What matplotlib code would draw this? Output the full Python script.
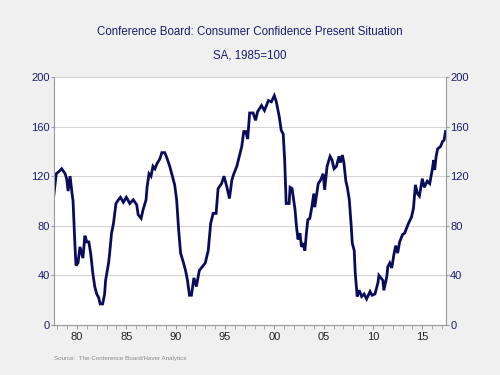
import numpy as np
import matplotlib
matplotlib.use('Agg')
import matplotlib.pyplot as plt

plt.rcParams['font.family'] = ['Liberation Sans', 'DejaVu Sans']

# decimal year, index value
years = [1977.6, 1977.9, 1978.2, 1978.45, 1978.8, 1978.95, 1979.1, 1979.3, 1979.5,
         1979.6, 1979.8, 1979.9, 1980.1, 1980.3, 1980.5, 1980.6, 1980.8, 1981.0,
         1981.2, 1981.4, 1981.6, 1981.8, 1982.0, 1982.2, 1982.35, 1982.6, 1982.8,
         1982.9, 1983.2, 1983.3, 1983.5, 1983.7, 1983.95, 1984.2, 1984.4, 1984.7,
         1985.0, 1985.35, 1985.7, 1986.05, 1986.2, 1986.5, 1986.7, 1987.0, 1987.1,
         1987.3, 1987.5, 1987.7, 1987.9, 1988.1, 1988.4, 1988.6, 1988.9, 1989.1,
         1989.4, 1989.6, 1989.9, 1990.1, 1990.3, 1990.5, 1990.8, 1991.0, 1991.2,
         1991.4, 1991.6, 1991.85, 1992.1, 1992.4, 1992.7, 1993.0, 1993.3, 1993.55,
         1993.8, 1994.1, 1994.3, 1994.65, 1994.9, 1995.2, 1995.45, 1995.7, 1995.9,
         1996.2, 1996.45, 1996.7, 1996.9, 1997.1, 1997.3, 1997.5, 1997.85, 1998.1,
         1998.3, 1998.7, 1999.0, 1999.4, 1999.7, 2000.0, 2000.2, 2000.5, 2000.7,
         2000.9, 2001.05, 2001.2, 2001.5, 2001.6, 2001.8, 2002.1, 2002.25, 2002.4,
         2002.6, 2002.75, 2002.9, 2003.1, 2003.25, 2003.4, 2003.6, 2003.8, 2004.0,
         2004.1, 2004.45, 2004.7, 2004.95, 2005.1, 2005.35, 2005.65, 2005.85, 2006.05,
         2006.3, 2006.55, 2006.7, 2006.9, 2007.05, 2007.25, 2007.4, 2007.6, 2007.8,
         2007.9, 2008.1, 2008.2, 2008.4, 2008.6, 2008.85, 2009.1, 2009.35, 2009.7,
         2009.9, 2010.2, 2010.5, 2010.6, 2011.0, 2011.1, 2011.4, 2011.5, 2011.7,
         2011.9, 2012.1, 2012.3, 2012.5, 2012.7, 2013.0, 2013.2, 2013.4, 2013.6,
         2013.9, 2014.1, 2014.3, 2014.5, 2014.7, 2015.0, 2015.2, 2015.5, 2015.75,
         2016.0, 2016.15, 2016.25, 2016.4, 2016.55, 2016.85, 2017.05, 2017.2, 2017.35]
values = [101, 122, 124, 126, 122, 118, 108, 120, 106,
          100, 63, 48, 50, 63, 57, 54, 72, 67,
          67, 57, 42, 31, 25, 22, 17, 17, 25,
          36, 50, 57, 74, 82, 98, 101, 103, 99,
          103, 98, 101, 97, 89, 86, 93, 101, 111,
          122, 120, 128, 126, 130, 134, 139, 139, 135,
          128, 122, 113, 101, 77, 58, 50, 44, 36,
          24, 24, 38, 31, 44, 47, 50, 60, 82,
          90, 90, 110, 114, 120, 111, 102, 117, 122,
          128, 136, 144, 156, 156, 150, 171, 171, 165,
          172, 177, 173, 181, 180, 185, 180, 168, 157,
          154, 133, 98, 98, 111, 110, 93, 79, 69,
          74, 63, 66, 60, 74, 85, 86, 95, 106,
          95, 114, 117, 122, 109, 128, 136, 133, 126,
          128, 136, 131, 137, 131, 116, 111, 101, 79,
          66, 60, 42, 23, 28, 23, 25, 21, 27,
          24, 25, 34, 40, 36, 28, 39, 47, 50,
          46, 56, 64, 58, 67, 73, 74, 78, 82,
          87, 94, 113, 106, 104, 118, 111, 116, 114,
          125, 133, 125, 136, 142, 144, 148, 149, 156]

tick_years = [1980, 1985, 1990, 1995, 2000, 2005, 2010, 2015]
tick_labels = ['80', '85', '90', '95', '00', '05', '10', '15']
y_ticks = [0, 40, 80, 120, 160, 200]

navy = '#1c1c6b'
fig = plt.figure(figsize=(5, 3.75), dpi=100, facecolor='#f0f0f0')
ax = fig.add_axes([0.108, 0.1333, 0.784, 0.6614])
ax.set_facecolor('white')
ax.plot(years, values, color='#0b0b5c', lw=2.0, solid_joinstyle='miter')

ax.set_xlim(1977.67, 2017.4)
ax.set_ylim(0, 200)
ax.set_yticks(y_ticks)
ax.yaxis.grid(True, color='#d4d4d4', lw=0.8)
ax.set_axisbelow(True)
ax.set_xticks(tick_years)
ax.set_xticklabels(tick_labels)
ax.set_xticks(np.arange(1978, 2018), minor=True)

for s in ['left', 'right', 'bottom']:
    ax.spines[s].set_color('#9a9a9a')
ax.spines['top'].set_visible(False)

ax.tick_params(axis='y', which='both', direction='out', length=2, color='#9a9a9a',
               labelcolor=navy, labelsize=8, left=True, right=True,
               labelleft=True, labelright=True, pad=1)
ax.tick_params(axis='x', which='both', direction='out', length=3, color='#9a9a9a',
               labelcolor='#222222', labelsize=8, pad=2)

fig.text(0.5, 0.915, 'Conference Board: Consumer Confidence Present Situation',
         ha='center', va='center', color=navy, fontsize=8.3)
fig.text(0.5, 0.853, 'SA, 1985=100', ha='center', va='center', color=navy, fontsize=8.3)
fig.text(0.108, 0.045, 'Source:  The Conference Board/Haver Analytics',
         ha='left', va='center', color='#888888', fontsize=4.5)

fig.savefig('out.png', dpi=100, facecolor=fig.get_facecolor())
